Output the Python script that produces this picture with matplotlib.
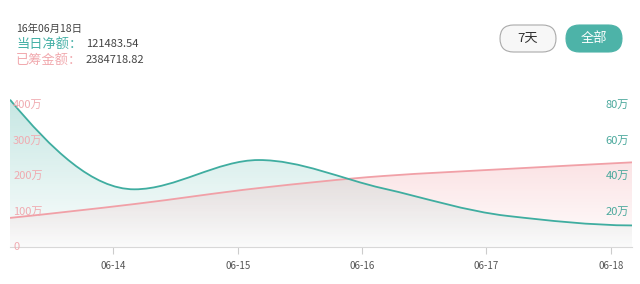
#!/usr/bin/env python3

import numpy as np
import matplotlib.pyplot as plt
from matplotlib.path import Path
from matplotlib.patches import PathPatch, FancyBboxPatch
from matplotlib.transforms import Affine2D

plt.rcParams['font.family'] = ['Noto Sans CJK SC', 'DejaVu Sans']

# data (万 yuan), x in days of June
days = [13.17, 14.17, 15.17, 16.17, 17.17, 18.17]
daily_net = [83.0, 32.5, 49.0, 33.0, 17.5, 12.15]        # 当日净额, right axis
raised = [82.0, 121.0, 166.0, 200.0, 220.0, 238.47]      # 已筹金额, left axis
tick_days = [14, 15, 16, 17, 18]
tick_labels = ['06-14', '06-15', '06-16', '06-17', '06-18']
left_ticks = [0, 100, 200, 300, 400]
right_ticks = [20, 40, 60, 80]

TEAL = '#3fada0'
PINK = '#f1a0a7'
LEFT_TXT = '#f0aab0'
RIGHT_TXT = '#4aa89c'
RATIO = 5  # left axis units per right axis unit


def smooth_path(x, y, y0=None):
    # monotone cubic tangents (pchip style), drawn as bezier curves
    x = np.asarray(x, float)
    y = np.asarray(y, float)
    h = np.diff(x)
    d = np.diff(y) / h
    m = np.zeros_like(y)
    for i in range(1, len(y) - 1):
        if d[i - 1] * d[i] > 0:
            m[i] = 2 / (1 / d[i - 1] + 1 / d[i])
    for i, (da, db) in [(0, (d[0], d[1])), (-1, (d[-1], d[-2]))]:
        e = (3 * da - db) / 2
        if e * da <= 0:
            e = 0
        elif da * db < 0 and abs(e) > 3 * abs(da):
            e = 3 * da
        m[i] = e
    verts = [(x[0], y[0])]
    codes = [Path.MOVETO]
    for i in range(len(x) - 1):
        verts += [(x[i] + h[i] / 3, y[i] + m[i] * h[i] / 3),
                  (x[i + 1] - h[i] / 3, y[i + 1] - m[i + 1] * h[i] / 3),
                  (x[i + 1], y[i + 1])]
        codes += [Path.CURVE4] * 3
    if y0 is not None:
        verts += [(x[-1], y0), (x[0], y0), (x[0], y[0])]
        codes += [Path.LINETO, Path.LINETO, Path.CLOSEPOLY]
    return Path(verts, codes)


def gradient_fill(ax, path, trans, rgb, a_top, a_bottom, top, zorder):
    # translucent vertical gradient clipped to the area under a curve
    patch = PathPatch(path, facecolor='none', edgecolor='none', transform=trans)
    ax.add_patch(patch)
    img = np.zeros((256, 2, 4))
    img[..., :3] = rgb
    img[..., 3] = np.linspace(a_bottom, a_top, 256)[:, None]
    im = ax.imshow(img, extent=[days[0], days[-1], 0, top], origin='lower',
                   aspect='auto', zorder=zorder, interpolation='bilinear')
    im.set_clip_path(patch)


fig = plt.figure(figsize=(6.4, 2.84), dpi=100)
W, H = 640, 284
ax = fig.add_axes([10 / W, 1 - 247 / H, 622 / W, 153 / H])
right = Affine2D().scale(1, RATIO) + ax.transData

LMAX = 431
ax.set_ylim(0, LMAX)
ax.set_xlim(days[0], days[-1])

# teal daily area (right axis), then pink cumulative area on top
gradient_fill(ax, smooth_path(days, daily_net, 0), right,
              (0.25, 0.68, 0.63), 0.30, 0.02, 84 * RATIO, 1)
gradient_fill(ax, smooth_path(days, raised, 0), ax.transData,
              (0.94, 0.55, 0.58), 0.25, 0.02, 240, 2)

ax.add_patch(PathPatch(smooth_path(days, raised), facecolor='none',
                       edgecolor=PINK, lw=1.3, zorder=3))
ax.add_patch(PathPatch(smooth_path(days, daily_net), facecolor='none',
                       edgecolor=TEAL, lw=1.3, zorder=3, transform=right))

for s in ax.spines.values():
    s.set_visible(False)
ax.spines['bottom'].set_visible(True)
ax.spines['bottom'].set_color('#d8d8d8')

ax.set_xticks(tick_days)
ax.set_xticklabels(tick_labels)
ax.tick_params(axis='x', length=5, color='#cccccc', labelsize=7,
               labelcolor='#555555', pad=5)
ax.set_yticks([])

for v in left_ticks:
    ax.text(0.005, v, '0' if v == 0 else f'{v}万', transform=ax.get_yaxis_transform(),
            color=LEFT_TXT, fontsize=8, va='center', ha='left', zorder=4)
for v in right_ticks:
    ax.text(0.995, v * RATIO, f'{v}万', transform=ax.get_yaxis_transform(),
            color=RIGHT_TXT, fontsize=8, va='center', ha='right', zorder=4)

# header and buttons, in pixel coordinates
top = fig.add_axes([0, 0, 1, 1], zorder=5)
top.set_xlim(0, W)
top.set_ylim(H, 0)
top.axis('off')

top.text(16, 29, '16年06月18日', fontsize=7.5, color='#444444', va='center')
top.text(16, 44, '当日净额：', fontsize=9.5, color='#45b0a6', va='center')
top.text(86, 44, '121483.54', fontsize=8, color='#444444', va='center')
top.text(16, 60, '已筹金额：', fontsize=9.5, color='#f1a9ae', va='center')
top.text(86, 60, '2384718.82', fontsize=8, color='#444444', va='center')

for x0, label, filled in [(500, '7天', False), (566, '全部', True)]:
    top.add_patch(FancyBboxPatch(
        (x0, 25), 56, 27, boxstyle='round,pad=0,rounding_size=13.5',
        facecolor='#4db3a8' if filled else '#f7f7f7',
        edgecolor='#4db3a8' if filled else '#aaaaaa', lw=0.8))
    top.text(x0 + 28, 38.5, label, fontsize=9.5,
             color='white' if filled else '#333333', ha='center', va='center')

fig.savefig('out.png', dpi=100)
